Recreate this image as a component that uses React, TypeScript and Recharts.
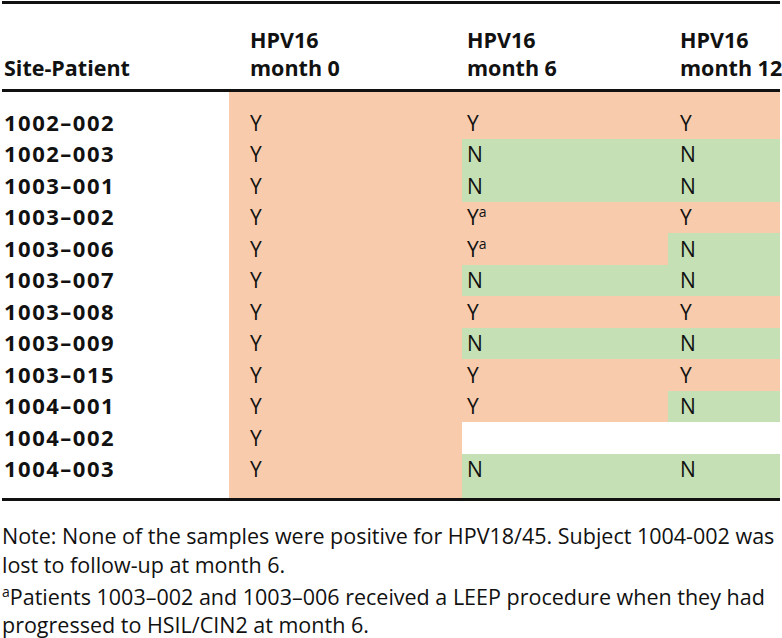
import { Bar, BarChart, LabelList, XAxis, YAxis } from 'recharts';

const SITES = [
  '1002–002', '1002–003', '1003–001', '1003–002', '1003–006', '1003–007',
  '1003–008', '1003–009', '1003–015', '1004–001', '1004–002', '1004–003',
];
const MONTH0 = ['Y', 'Y', 'Y', 'Y', 'Y', 'Y', 'Y', 'Y', 'Y', 'Y', 'Y', 'Y'];
const MONTH6 = ['Y', 'N', 'N', 'Ya', 'Ya', 'N', 'Y', 'N', 'Y', 'Y', '', 'N'];
const MONTH12 = ['Y', 'N', 'N', 'Y', 'N', 'N', 'Y', 'N', 'Y', 'N', '', 'N'];
const HEADERS = [['HPV16', 'month 0'], ['HPV16', 'month 6'], ['HPV16', 'month 12']];
const NOTES = [
  'Note: None of the samples were positive for HPV18/45. Subject 1004-002 was',
  'lost to follow-up at month 6.',
  'Patients 1003–002 and 1003–006 received a LEEP procedure when they had',
  'progressed to HSIL/CIN2 at month 6.',
];

// layout
const COL_W = [233, 206, 112];
const TEXT_DX = [21, 5, 12];
const PAD_TOP = 15;
const PAD_BOTTOM = 13;
const ORANGE = '#F8CBAD';
const GREEN = '#C5E0B4';
const FONT = '"Open Sans", sans-serif';

const columns = [MONTH0, MONTH6, MONTH12];
const data = SITES.map((site, i) => ({
  site,
  w0: COL_W[0], w1: COL_W[1], w2: COL_W[2],
  s0: columns[0][i], s1: columns[1][i], s2: columns[2][i],
}));
const total = COL_W[0] + COL_W[1] + COL_W[2];
const last = SITES.length - 1;

const fillFor = (s: string) => (s.startsWith('Y') ? ORANGE : s.startsWith('N') ? GREEN : '#ffffff');

const cellShape = (col: number) => (props: any) => {
  const { x, y, width, height, index, payload } = props;
  const y0 = index === 0 ? y - PAD_TOP : y;
  const y1 = index === last ? y + height + PAD_BOTTOM : y + height;
  return (
    <rect
      x={Math.round(x)}
      y={Math.round(y0)}
      width={Math.round(x + width) - Math.round(x)}
      height={Math.round(y1) - Math.round(y0)}
      fill={fillFor(payload[`s${col}`])}
      shapeRendering="crispEdges"
    />
  );
};

const cellText = (col: number) => (props: any) => {
  const { x, y, height, value } = props;
  if (!value) return null;
  return (
    <text x={x + TEXT_DX[col]} y={y + height / 2} dy="0.36em" fontFamily={FONT} fontSize={21} fill="#111">
      {value[0]}
      {value.length > 1 && (
        <tspan fontSize={14} dy={-8}>{value.slice(1)}</tspan>
      )}
    </text>
  );
};

const SiteTick = (props: any) => (
  <text x={4} y={props.y} dy="0.36em" fontFamily={FONT} fontSize={22} fontWeight={700} letterSpacing={1.5} fill="#111">
    {props.payload.value}
  </text>
);

const HeaderTick = (props: any) => {
  const i = props.payload.index;
  if (i > 2) return null;
  return (
    <text x={props.x + TEXT_DX[i]} fontFamily={FONT} fontSize={21.5} fontWeight={700} fill="#111">
      <tspan x={props.x + TEXT_DX[i]} y={48}>{HEADERS[i][0]}</tspan>
      <tspan x={props.x + TEXT_DX[i]} y={76}>{HEADERS[i][1]}</tspan>
    </text>
  );
};

export default function App() {
  return (
    <div style={{ position: 'absolute', left: 0, top: 0, width: 782, height: 638, background: '#fff' }}>
      <BarChart
        width={782}
        height={500}
        data={data}
        layout="vertical"
        barCategoryGap={0}
        margin={{ top: 0, right: 2, bottom: 2, left: 0 }}
      >
        <XAxis
          type="number"
          orientation="top"
          domain={[0, total]}
          ticks={[0, COL_W[0], COL_W[0] + COL_W[1]]}
          height={92}
          axisLine={false}
          tickLine={false}
          tick={<HeaderTick />}
          interval={0}
        />
        <YAxis
          type="category"
          dataKey="site"
          width={229}
          axisLine={false}
          tickLine={false}
          tick={<SiteTick />}
          interval={0}
          padding={{ top: PAD_TOP, bottom: PAD_BOTTOM }}
        />
        {[0, 1, 2].map((c) => (
          <Bar key={c} dataKey={`w${c}`} stackId="row" isAnimationActive={false} shape={cellShape(c)}>
            <LabelList dataKey={`s${c}`} content={cellText(c)} />
          </Bar>
        ))}
      </BarChart>
      <svg width={782} height={638} style={{ position: 'absolute', left: 0, top: 0, pointerEvents: 'none' }}>
        <rect x={2} y={1} width={778} height={3} fill="#111" />
        <rect x={2} y={89} width={778} height={3} fill="#111" />
        <rect x={2} y={498} width={778} height={3} fill="#111" />
        <text x={4} y={76} fontFamily={FONT} fontSize={21.5} fontWeight={700} fill="#111">Site-Patient</text>
        <g fontFamily={FONT} fontSize={21.5} fill="#111">
          <text x={2} y={544}>{NOTES[0]}</text>
          <text x={2} y={573}>{NOTES[1]}</text>
          <text x={2} y={605}>
            <tspan fontSize={14} dy={-8}>a</tspan>
            <tspan dy={8}>{NOTES[2]}</tspan>
          </text>
          <text x={2} y={633}>{NOTES[3]}</text>
        </g>
      </svg>
    </div>
  );
}
